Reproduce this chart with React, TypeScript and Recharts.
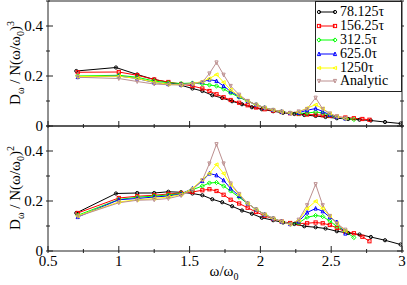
import React from "react";
import { LineChart, Line, XAxis, YAxis, Legend } from "recharts";

const serif = "'Liberation Serif', 'DejaVu Serif', serif";
const axisColor = "#222";

const xTicks = [0.5, 0.75, 1, 1.25, 1.5, 1.75, 2, 2.25, 2.5, 2.75, 3];
const yTicks = [0, 0.1, 0.2, 0.3, 0.4, 0.5];

const names = ["78.125τ", "156.25τ", "312.5τ", "625.0τ", "1250τ", "Analytic"];
const colors = ["#000000", "#ff0000", "#00ff00", "#0000ff", "#ffff00", "#bc8f8f"];
const shapes = ["circle", "square", "diamond", "up", "left", "down"];

// 78.125τ uses its own frequency grid
const blackX = [0.70, 0.98, 1.13, 1.25, 1.35, 1.44, 1.52, 1.59, 1.66, 1.73, 1.80, 1.87, 1.94, 2.01, 2.09, 2.16, 2.24, 2.31, 2.39, 2.46, 2.54, 2.62, 2.70, 2.78, 2.88, 2.99];
const blackTop = [0.22, 0.234, 0.206, 0.186, 0.175, 0.163, 0.15, 0.14, 0.123, 0.112, 0.099, 0.087, 0.075, 0.067, 0.059, 0.053, 0.048, 0.044, 0.04, 0.036, 0.031, 0.028, 0.025, 0.022, 0.016, 0.01];
const blackBottom = [0.152, 0.23, 0.232, 0.232, 0.237, 0.235, 0.23, 0.223, 0.207, 0.195, 0.179, 0.162, 0.149, 0.133, 0.123, 0.114, 0.108, 0.099, 0.095, 0.09, 0.079, 0.072, 0.066, 0.056, 0.043, 0.026];

// grid for the other runs (each stops at its own length)
const gridX = [0.71, 1.0, 1.13, 1.25, 1.35, 1.44, 1.52, 1.59, 1.64, 1.69, 1.74, 1.79, 1.85, 1.91, 1.97, 2.03, 2.09, 2.15, 2.21, 2.27, 2.33, 2.39, 2.44, 2.49, 2.54, 2.60, 2.66, 2.72, 2.77];

const redTop = [0.215, 0.216, 0.203, 0.186, 0.176, 0.168, 0.16, 0.15, 0.14, 0.127, 0.115, 0.104, 0.093, 0.083, 0.074, 0.067, 0.061, 0.056, 0.051, 0.048, 0.046, 0.045, 0.043, 0.04, 0.037, 0.034, 0.031, 0.028, 0.025];
const greenTop = [0.2, 0.203, 0.195, 0.18, 0.173, 0.17, 0.172, 0.168, 0.164, 0.16, 0.148, 0.132, 0.115, 0.099, 0.085, 0.073, 0.064, 0.057, 0.052, 0.05, 0.052, 0.056, 0.052, 0.043, 0.036, 0.03, 0.026];
const blueTop = [0.196, 0.2, 0.19, 0.174, 0.168, 0.166, 0.17, 0.176, 0.186, 0.18, 0.16, 0.138, 0.118, 0.1, 0.085, 0.073, 0.064, 0.057, 0.052, 0.053, 0.063, 0.07, 0.058, 0.045, 0.036, 0.03];
const yellowTop = [0.198, 0.199, 0.19, 0.175, 0.167, 0.165, 0.17, 0.178, 0.19, 0.206, 0.175, 0.145, 0.12, 0.1, 0.085, 0.073, 0.064, 0.057, 0.052, 0.056, 0.072, 0.085, 0.07, 0.05, 0.038, 0.03];
const analyticTop = [0.195, 0.19, 0.178, 0.168, 0.165, 0.164, 0.168, 0.175, 0.21, 0.254, 0.205, 0.16, 0.125, 0.1, 0.085, 0.073, 0.064, 0.057, 0.052, 0.058, 0.068, 0.113, 0.068, 0.05, 0.038, 0.03];

const redBottom = [0.152, 0.212, 0.219, 0.223, 0.228, 0.232, 0.236, 0.243, 0.247, 0.24, 0.225, 0.205, 0.19, 0.173, 0.156, 0.141, 0.128, 0.118, 0.112, 0.11, 0.111, 0.114, 0.111, 0.104, 0.092, 0.077, 0.071, 0.057, 0.039];
const greenBottom = [0.143, 0.206, 0.215, 0.22, 0.224, 0.23, 0.245, 0.26, 0.272, 0.274, 0.26, 0.24, 0.215, 0.19, 0.166, 0.146, 0.13, 0.118, 0.108, 0.112, 0.135, 0.142, 0.138, 0.12, 0.098, 0.079, 0.054];
const blueBottom = [0.136, 0.205, 0.21, 0.216, 0.22, 0.228, 0.25, 0.28, 0.31, 0.303, 0.283, 0.25, 0.22, 0.19, 0.166, 0.146, 0.13, 0.118, 0.108, 0.118, 0.154, 0.17, 0.159, 0.135, 0.116, 0.07];
const yellowBottom = [0.14, 0.196, 0.205, 0.21, 0.216, 0.226, 0.25, 0.286, 0.31, 0.346, 0.31, 0.265, 0.225, 0.19, 0.166, 0.146, 0.13, 0.118, 0.107, 0.122, 0.17, 0.199, 0.17, 0.14, 0.11, 0.08];
const analyticBottom = [0.138, 0.193, 0.203, 0.205, 0.21, 0.222, 0.245, 0.283, 0.35, 0.427, 0.35, 0.27, 0.228, 0.19, 0.166, 0.146, 0.13, 0.118, 0.106, 0.125, 0.183, 0.267, 0.183, 0.14, 0.11, 0.085];

const topValues = [blackTop, redTop, greenTop, blueTop, yellowTop, analyticTop];
const bottomValues = [blackBottom, redBottom, greenBottom, blueBottom, yellowBottom, analyticBottom];

const toPoints = (xs: number[], ys: number[]) => ys.map((y, i) => ({ x: xs[i], y }));

const topSeries = topValues.map((ys, i) => toPoints(i === 0 ? blackX : gridX, ys));
const bottomSeries = bottomValues.map((ys, i) => toPoints(i === 0 ? blackX : gridX, ys));

const Marker = ({ cx, cy, shape, color }: any) => {
  const s = 1.6;
  const common = { fill: "none", stroke: color, strokeWidth: 1 };
  if (cx == null || cy == null) return null;
  switch (shape) {
    case "circle":
      return <circle cx={cx} cy={cy} r={s} {...common} />;
    case "square":
      return <rect x={cx - s} y={cy - s} width={2 * s} height={2 * s} {...common} />;
    case "diamond":
      return <polygon points={`${cx},${cy - s - 0.5} ${cx + s + 0.5},${cy} ${cx},${cy + s + 0.5} ${cx - s - 0.5},${cy}`} {...common} />;
    case "up":
      return <polygon points={`${cx},${cy - s - 0.4} ${cx + s},${cy + s} ${cx - s},${cy + s}`} {...common} />;
    case "left":
      return <polygon points={`${cx - s - 0.4},${cy} ${cx + s},${cy - s} ${cx + s},${cy + s}`} {...common} />;
    default:
      return <polygon points={`${cx},${cy + s + 0.4} ${cx + s},${cy - s} ${cx - s},${cy - s}`} {...common} />;
  }
};

const isMajor = (v: number, step: number) => Math.abs(v / step - Math.round(v / step)) < 1e-6;

const xTickRenderer = (dir: number, labels: boolean) => (props: any) => {
  const { x, y, payload } = props;
  const v = payload.value;
  const major = isMajor(v, 0.5);
  return (
    <g>
      <line x1={x} x2={x} y1={y} y2={y + dir * (major ? 7 : 4)} stroke={axisColor} />
      {labels && major && (
        <text x={x} y={y + 13} textAnchor="middle" fontFamily={serif} fontSize={15} fill="#000">
          {v}
        </text>
      )}
    </g>
  );
};

const yTickRenderer = (dir: number, labels: boolean) => (props: any) => {
  const { x, y, payload } = props;
  const v = payload.value;
  const major = isMajor(v, 0.2);
  return (
    <g>
      <line x1={x} x2={x + dir * (major ? 7 : 4)} y1={y} y2={y} stroke={axisColor} />
      {labels && major && (
        <text x={x - 3} y={y} dy="0.35em" textAnchor="end" fontFamily={serif} fontSize={15} fill="#000">
          {v}
        </text>
      )}
    </g>
  );
};

const renderLegend = () => (
  <div
    style={{
      border: `1px solid ${axisColor}`,
      background: "#fff",
      width: 87,
      height: 91,
      boxSizing: "border-box",
      paddingTop: 3,
      fontFamily: serif,
      fontSize: 14,
    }}
  >
    {names.map((n, i) => (
      <div key={n} style={{ display: "flex", alignItems: "center", height: 13.9, lineHeight: "13.9px" }}>
        <svg width={24} height={10} style={{ flex: "none" }}>
          <line x1={3} y1={5} x2={19} y2={5} stroke={colors[i]} />
          <Marker cx={3} cy={5} shape={shapes[i]} color={colors[i]} />
          <Marker cx={19} cy={5} shape={shapes[i]} color={colors[i]} />
        </svg>
        <span>{n}</span>
      </div>
    ))}
  </div>
);

const Panel = ({ series, bottomHeight, showLabels, legend }: any) => (
  <LineChart width={407} height={1 + 125 + bottomHeight} margin={{ top: 0, right: 0, bottom: 0, left: 0 }}>
    <XAxis
      xAxisId="b"
      dataKey="x"
      type="number"
      domain={[0.5, 3]}
      ticks={xTicks}
      interval={0}
      height={bottomHeight}
      tickSize={0}
      tickLine={false}
      axisLine={{ stroke: axisColor }}
      tick={xTickRenderer(-1, showLabels)}
      allowDataOverflow
    />
    <XAxis
      xAxisId="t"
      orientation="top"
      type="number"
      domain={[0.5, 3]}
      ticks={xTicks}
      interval={0}
      height={1}
      tickSize={0}
      tickLine={false}
      axisLine={{ stroke: axisColor }}
      tick={xTickRenderer(1, false)}
      allowDataOverflow
    />
    <YAxis
      yAxisId="l"
      type="number"
      domain={[0, 0.5]}
      ticks={yTicks}
      interval={0}
      width={48}
      tickSize={0}
      tickLine={false}
      axisLine={{ stroke: axisColor }}
      tick={yTickRenderer(1, true)}
      allowDataOverflow
    />
    <YAxis
      yAxisId="r"
      orientation="right"
      type="number"
      domain={[0, 0.5]}
      ticks={yTicks}
      interval={0}
      width={5}
      tickSize={0}
      tickLine={false}
      axisLine={{ stroke: axisColor }}
      tick={yTickRenderer(-1, false)}
      allowDataOverflow
    />
    {series.map((pts: any, i: number) => (
      <Line
        key={names[i]}
        xAxisId="b"
        yAxisId="l"
        data={pts}
        dataKey="y"
        name={names[i]}
        stroke={colors[i]}
        strokeWidth={1}
        isAnimationActive={false}
        dot={(p: any) => <Marker key={`${i}-${p.index}`} cx={p.cx} cy={p.cy} shape={shapes[i]} color={colors[i]} />}
        activeDot={false}
      />
    ))}
    {legend && (
      <Legend
        layout="vertical"
        align="center"
        verticalAlign="middle"
        content={renderLegend}
        wrapperStyle={{ left: 315, top: 1, width: 88, height: 91 }}
      />
    )}
  </LineChart>
);

const Titles = () => (
  <svg width={407} height={285} style={{ position: "absolute", left: 0, top: 0, pointerEvents: "none" }}>
    <text transform="rotate(-90)" x={-63} y={20} textAnchor="middle" fontFamily={serif} fontSize={15}>
      D<tspan dy={4} fontSize={10}>ω</tspan>
      <tspan dy={-4}> / N(ω/ω</tspan>
      <tspan dy={4} fontSize={10}>0</tspan>
      <tspan dy={-4}>)</tspan>
      <tspan dy={-6} fontSize={10}>3</tspan>
    </text>
    <text transform="rotate(-90)" x={-188} y={20} textAnchor="middle" fontFamily={serif} fontSize={15}>
      D<tspan dy={4} fontSize={10}>ω</tspan>
      <tspan dy={-4}> / N(ω/ω</tspan>
      <tspan dy={4} fontSize={10}>0</tspan>
      <tspan dy={-4}>)</tspan>
      <tspan dy={-6} fontSize={10}>2</tspan>
    </text>
    <text x={224} y={276} textAnchor="middle" fontFamily={serif} fontSize={15}>
      ω/ω<tspan dy={4} fontSize={10}>0</tspan>
    </text>
  </svg>
);

const App = () => (
  <div style={{ position: "absolute", left: 0, top: 0, width: 407, height: 285, background: "#fff" }}>
    <div style={{ position: "absolute", left: 0, top: 0 }}>
      <Panel series={topSeries} bottomHeight={12} showLabels={false} legend />
    </div>
    <div style={{ position: "absolute", left: 0, top: 125 }}>
      <Panel series={bottomSeries} bottomHeight={34} showLabels />
    </div>
    <Titles />
  </div>
);

export default App;
